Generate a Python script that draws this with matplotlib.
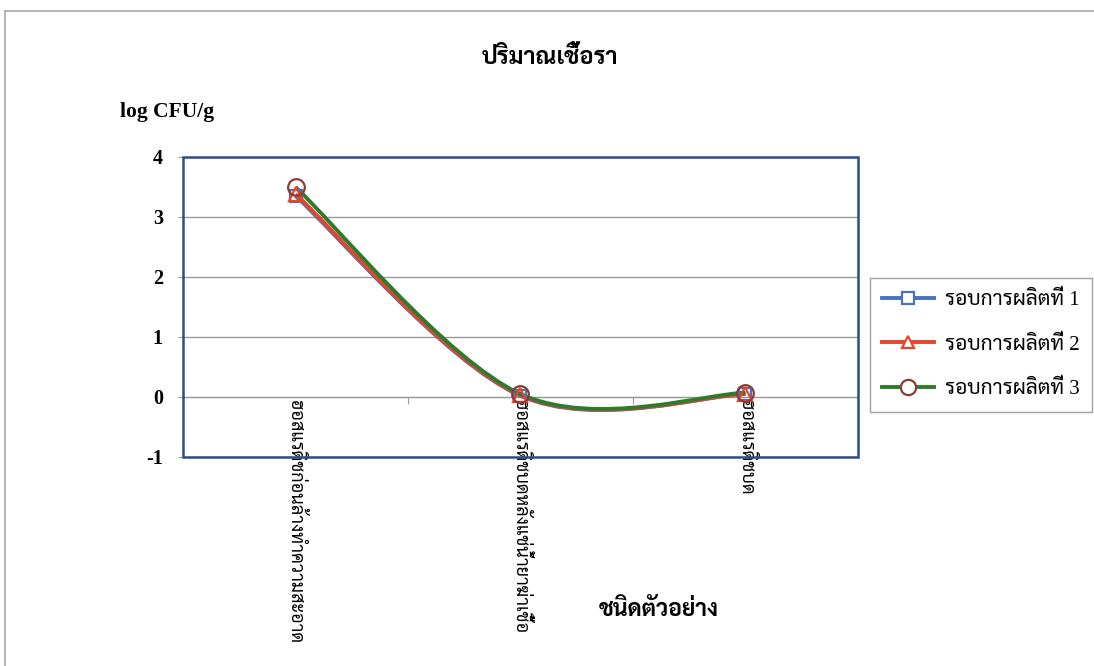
import matplotlib
matplotlib.use("Agg")
import matplotlib.pyplot as plt
from matplotlib import font_manager
from matplotlib.path import Path
from matplotlib.patches import PathPatch, Rectangle
from matplotlib.lines import Line2D

# ข้อมูลปริมาณเชื้อรา (log CFU/g) ของแต่ละรอบการผลิต
categories = ["ฮอสแรดิชก่อนล้างทำความสะอาด",
              "ฮอสแรดิชบดหลังแช่น้ำยาฆ่าเชื้อ",
              "ฮอสแรดิชบด"]
round1 = [3.35, 0.02, 0.05]
round2 = [3.38, 0.03, 0.05]
round3 = [3.50, 0.05, 0.07]
series_names = ["รอบการผลิตที่ 1", "รอบการผลิตที่ 2", "รอบการผลิตที่ 3"]
yticks = [-1, 0, 1, 2, 3, 4]

plt.rcParams["axes.unicode_minus"] = False

# หา font ไทยแบบมีหัวที่มีในเครื่อง
names = {f.name for f in font_manager.fontManager.ttflist}
thai = "DejaVu Sans"
for n in ["Sarabun", "Noto Serif Thai", "Taviraj", "Trirong", "Noto Sans Thai Looped", "Athiti"]:
    if n in names:
        thai = n
        break
fam = ["Liberation Serif", thai]

BLUE = "#4873C4"
RED = "#E6452A"
GREEN = "#2E7B2E"
FRAME = "#2A4E8A"
GREY = "#9A9A9A"


def smooth_path(xs, ys):
    # เส้นโค้งแบบ smoothed line (Catmull-Rom -> Bezier)
    px = [xs[0]] + list(xs) + [xs[-1]]
    py = [ys[0]] + list(ys) + [ys[-1]]
    verts = [(xs[0], ys[0])]
    codes = [Path.MOVETO]
    for i in range(1, len(xs)):
        c1 = (px[i] + (px[i + 1] - px[i - 1]) / 6, py[i] + (py[i + 1] - py[i - 1]) / 6)
        c2 = (px[i + 1] - (px[i + 2] - px[i]) / 6, py[i + 1] - (py[i + 2] - py[i]) / 6)
        verts += [c1, c2, (px[i + 1], py[i + 1])]
        codes += [Path.CURVE4] * 3
    return Path(verts, codes)


fig = plt.figure(figsize=(10.94, 6.66), dpi=100)
ax = fig.add_axes([183 / 1094, 209 / 666, 675 / 1094, 300 / 666])

x = [0.5, 1.5, 2.5]
styles = [(round1, BLUE, "s", BLUE, 9),
          (round2, RED, "^", RED, 10),
          (round3, GREEN, "o", "#8E3B33", 12)]
handles = []
for (vals, col, mk, mec, ms), name in zip(styles, series_names):
    ax.add_patch(PathPatch(smooth_path(x, vals), fill=False, ec=col, lw=2.8, zorder=3))
    ax.plot(x, vals, ls="none", marker=mk, ms=ms, mfc="none", mec=mec, mew=1.6, zorder=4)
    handles.append(Line2D([], [], color=col, lw=2.8, marker=mk, ms=ms - 1, mfc="white",
                          mec=mec, mew=1.6, label=name))

ax.set_xlim(0, 3)
ax.set_ylim(-1, 4)
ax.set_yticks(yticks)
ax.yaxis.grid(True, color=GREY, lw=1)
ax.set_axisbelow(True)
for s in ["left", "top", "right"]:
    ax.spines[s].set_visible(False)
ax.spines["bottom"].set_position(("data", 0))
ax.spines["bottom"].set_color(GREY)
ax.add_patch(Rectangle((0, 0), 1, 1, transform=ax.transAxes, fill=False,
                       ec=FRAME, lw=1.8, clip_on=False, zorder=5))

ax.tick_params(axis="y", direction="out", length=3.5, color=GREY, pad=11)
for lab in ax.get_yticklabels():
    lab.set_family(fam)
    lab.set_fontweight("bold")
    lab.set_fontsize(14.5)

# ขีดแบ่งหมวดหมู่บนแกน x และชื่อหมวดหมู่
ax.set_xticks([1, 2])
ax.set_xticklabels([])
ax.set_xticks(x, minor=True)
ax.set_xticklabels(categories, minor=True, rotation=-90, va="top", ha="center",
                   family=fam, fontsize=13)
ax.tick_params(axis="x", which="major", direction="out", length=5, color=GREY)
ax.tick_params(axis="x", which="minor", length=0, pad=2)

fig.text(550 / 1094, 1 - 58 / 666, "ปริมาณเชื้อรา", ha="center", va="center",
         family=fam, fontweight="bold", fontsize=17)
fig.text(120 / 1094, 1 - 112 / 666, "log CFU/g", ha="left", va="center",
         family=fam, fontweight="bold", fontsize=15.5)
fig.text(659 / 1094, 1 - 610 / 666, "ชนิดตัวอย่าง", ha="center", va="center",
         family=fam, fontweight="bold", fontsize=16.5)

leg = fig.legend(handles=handles, loc="center", bbox_to_anchor=(981 / 1094, 1 - 345 / 666),
                 prop={"family": fam, "size": 15}, frameon=True, fancybox=False,
                 edgecolor="#8A8A8A", handlelength=2.5, labelspacing=1.2,
                 borderpad=0.6, handletextpad=0.5)
leg.get_frame().set_linewidth(1)

# กรอบภาพสแกน
fig.add_artist(Line2D([5 / 1094, 1], [1 - 11 / 666] * 2, color="#A8A8A8", lw=1.2))
fig.add_artist(Line2D([5 / 1094] * 2, [0, 1 - 11 / 666], color="#A8A8A8", lw=1.2))

fig.savefig("out.png", dpi=100)
